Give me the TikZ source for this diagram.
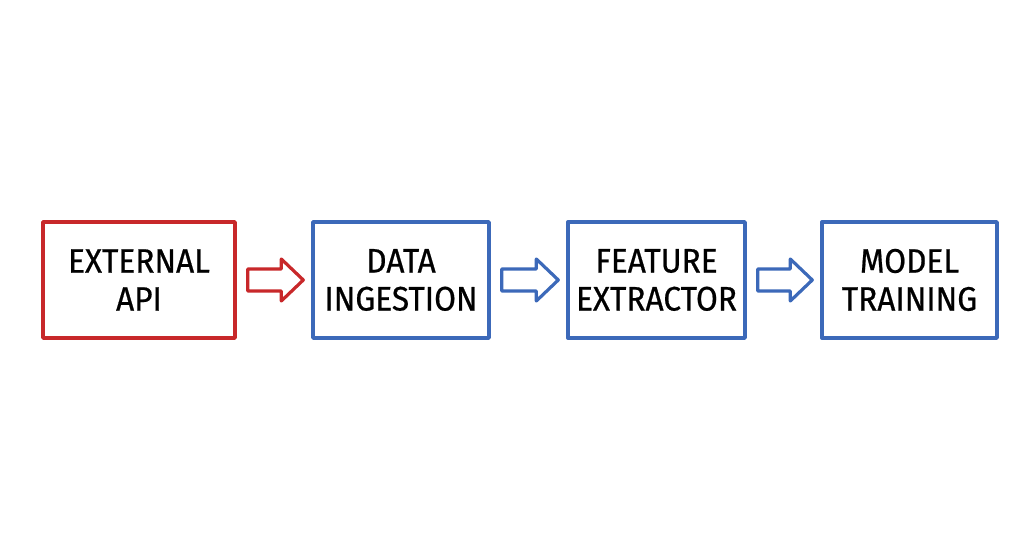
\documentclass[tikz,border=0pt]{standalone}
\usepackage{fontspec}
\newfontfamily\handfont{Fira Sans}[FakeBold=0.6,FakeStretch=0.93]
\usetikzlibrary{calc}
\definecolor{sred}{RGB}{200,40,42}
\definecolor{sblue}{RGB}{60,105,185}
\newcommand\blockarrow[3]{%
  \draw[blockarr,draw=#1] let \p1=($(#2.east)+(11pt,0)$), \p2=($(#3.west)+(-8pt,0)$) in
    (\x1,\y1-11pt) -- (\x2-22pt,\y1-11pt) -- (\x2-22pt,\y1-21pt) -- (\x2,\y1)
    -- (\x2-22pt,\y1+21pt) -- (\x2-22pt,\y1+11pt) -- (\x1,\y1+11pt) -- cycle;}
\begin{document}
\begin{tikzpicture}[x=1pt,y=-1pt,
  box/.style={draw=#1, line width=3.4pt, line join=round, minimum height=116pt,
    inner sep=0pt, align=center, text=black,
    font=\handfont\fontsize{34}{38}\selectfont},
  blockarr/.style={line width=3.2pt, line join=round, fill=white}]
\useasboundingbox (0,0) rectangle (1024,559);
\node[box=sred, minimum width=192pt] (ext) at (139,280) {EXTERNAL\\API};
\node[box=sblue, minimum width=176pt] (ing) at (401,280) {DATA\\INGESTION};
\node[box=sblue, minimum width=177pt] (fea) at (656.5,280) {FEATURE\\EXTRACTOR};
\node[box=sblue, minimum width=175pt] (mod) at (909.5,280) {MODEL\\TRAINING};
\blockarrow{sred}{ext}{ing}
\blockarrow{sblue}{ing}{fea}
\blockarrow{sblue}{fea}{mod}
\end{tikzpicture}
\end{document}
